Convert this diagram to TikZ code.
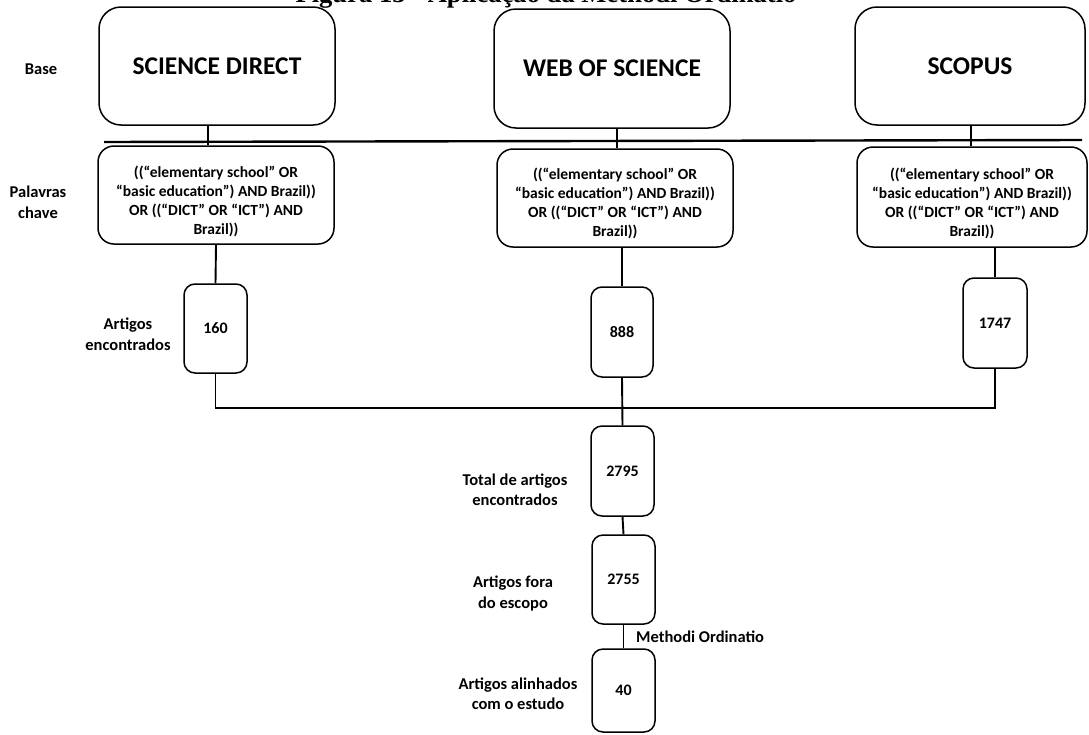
\documentclass[tikz,border=0pt]{standalone}
\usepackage{fontspec}
\setmainfont{Carlito}
\newfontfamily\titlefont{Liberation Serif}
\begin{document}
\begin{tikzpicture}[x=1pt,y=-1pt,
 box/.style={draw=black, line width=1.5pt, inner sep=0pt, align=center, font=\bfseries},
 dbbox/.style={box, rounded corners=22pt, font=\fontsize{25.5}{30}\selectfont\bfseries},
 kwbox/.style={box, rounded corners=16pt},
 cntbox/.style={box, rounded corners=11pt, font=\fontsize{16}{19}\selectfont\bfseries},
 lbl/.style={align=center, inner sep=0pt, font=\fontsize{16.5}{20.5}\selectfont\bfseries},
 kwtext/.style={align=center, inner sep=0pt, font=\fontsize{15.5}{19}\selectfont\bfseries},
 conn/.style={line width=1.9pt},
]
\useasboundingbox (0,0) rectangle (1089,734);

% title (cut off at the top, as in the source)
\node[anchor=base, inner sep=0pt, font=\titlefont\fontsize{26.6}{30}\selectfont\bfseries] (title) at (546,2.5) {Figura 13 - Aplicação da Methodi Ordinatio};

% database boxes
\node[dbbox, minimum width=236pt, minimum height=118pt] (sd) at (217,66) {SCIENCE DIRECT};
\node[dbbox, minimum width=236pt, minimum height=119pt] (wos) at (612,68.5) {WEB OF SCIENCE};
\node[dbbox, minimum width=230pt, minimum height=118pt] (sc) at (970,66) {SCOPUS};

% keyword boxes
\node[kwbox, minimum width=236pt, minimum height=98pt] (kw1) at (216,195) {};
\node[kwtext] (kw1t) at (216,201) {((“elementary school” OR\\“basic education”) AND Brazil))\\OR ((“DICT” OR “ICT”) AND\\Brazil))};
\node[kwbox, minimum width=236pt, minimum height=98pt] (kw2) at (615,198) {};
\node[kwtext] (kw2t) at (615,203) {((“elementary school” OR\\“basic education”) AND Brazil))\\OR ((“DICT” OR “ICT”) AND\\Brazil))};
\node[kwbox, minimum width=230pt, minimum height=100pt] (kw3) at (972,197) {};
\node[kwtext] (kw3t) at (972,203) {((“elementary school” OR\\“basic education”) AND Brazil))\\OR ((“DICT” OR “ICT”) AND\\Brazil))};

% count boxes
\node[cntbox, minimum width=63pt, minimum height=89pt] (n1) at (215.5,328.5) {160};
\node[cntbox, minimum width=62pt, minimum height=90pt] (n2) at (622,332) {888};
\node[cntbox, minimum width=64pt, minimum height=90pt] (n3) at (995,323) {1747};
\node[cntbox, minimum width=63pt, minimum height=90pt] (t) at (622.5,471) {2795};
\node[cntbox, minimum width=63pt, minimum height=89pt] (f) at (623.5,579.5) {2755};
\node[cntbox, minimum width=63pt, minimum height=83pt] (a) at (623.5,690.5) {40};

% side labels
\node[lbl] (lbase) at (41,69) {Base};
\node[lbl] (lkw) at (38,202.5) {Palavras\\chave};
\node[lbl] (lart) at (128,334.5) {Artigos\\encontrados};
\node[lbl] (ltot) at (515,490) {Total de artigos\\encontrados};
\node[lbl] (lfora) at (513,593.5) {Artigos fora\\do escopo};
\node[lbl] (lalin) at (518,693.5) {Artigos alinhados\\com o estudo};
\node[lbl, anchor=west] (lmeth) at (636,637) {Methodi Ordinatio};

% connectors
\coordinate (v1) at (208,0);
\coordinate (v2) at (617,0);
\coordinate (v3) at (971,0);
\draw[conn] (sd.south -| v1) -- (kw1.north -| v1);
\draw[conn] (wos.south -| v2) -- (kw2.north -| v2);
\draw[conn] (sc.south -| v3) -- (kw3.north -| v3);
\coordinate (hl) at (104,142);
\coordinate (hr) at (1082,140);
\draw[line width=2.4pt] (hl) -- (hr);

\draw[conn] (kw1.south) -- (n1.north);
\draw[conn] (kw2.south -| n2.north) -- (n2.north);
\draw[conn] (kw3.south -| n3.north) -- (n3.north);
\coordinate (bus) at (0,408);
\draw[conn] (n1.south) -- (n1.south |- bus) -- (n3.south |- bus) -- (n3.south);
\draw[conn] (n2.south) -- (t.north);
\draw[conn] (t.south) -- (f.north);
\draw[conn] (f.south) -- (a.north);
\end{tikzpicture}
\end{document}
